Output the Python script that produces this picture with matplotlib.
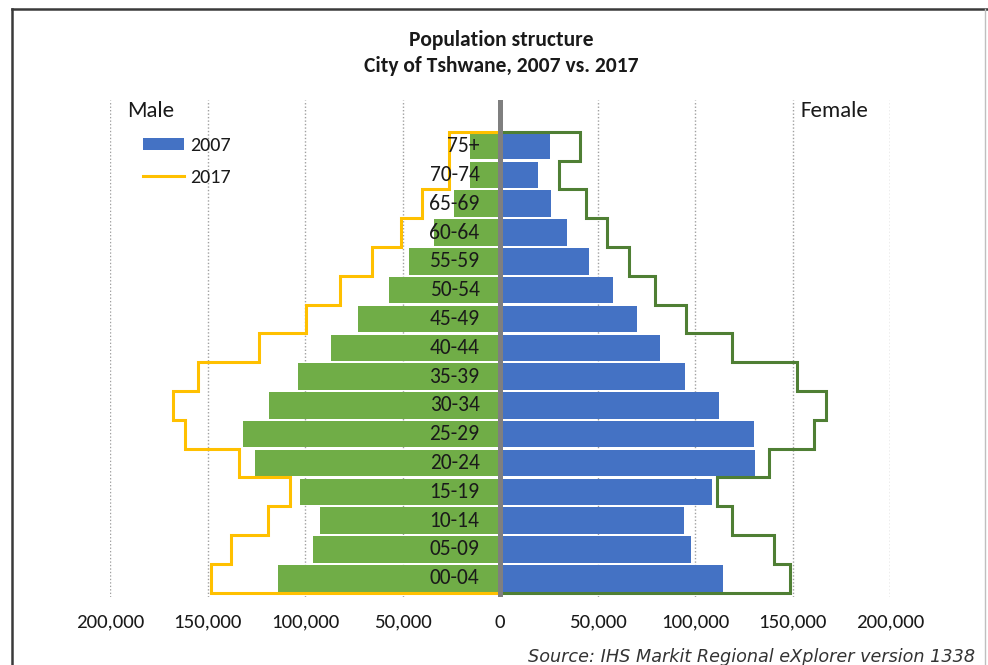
import matplotlib
matplotlib.use('Agg')
import matplotlib.pyplot as plt
from matplotlib.ticker import FuncFormatter, MultipleLocator
from matplotlib.lines import Line2D
import numpy as np

plt.rcParams['font.family'] = ['Carlito', 'DejaVu Sans']

age_groups = ['00-04', '05-09', '10-14', '15-19', '20-24', '25-29', '30-34', '35-39',
              '40-44', '45-49', '50-54', '55-59', '60-64', '65-69', '70-74', '75+']
male_2007 = [114000, 95900, 92300, 102600, 125500, 131600, 118500, 103400,
             86700, 72700, 57000, 46700, 33900, 23800, 15600, 15300]
female_2007 = [114600, 97700, 94600, 108800, 130700, 130000, 112500, 95100,
               81900, 70300, 57700, 45700, 34600, 26200, 19400, 25400]
male_2017 = [148100, 138200, 119100, 107900, 133600, 161300, 167900, 155100,
             123700, 99400, 81800, 65500, 50700, 39900, 26400, 26400]
female_2017 = [148800, 140400, 118900, 111200, 138200, 160900, 167300, 152200,
               119100, 95500, 79700, 66400, 55000, 44200, 30500, 40800]

male_color = '#70AD47'
female_color = '#4472C4'
male_line = '#FFC000'
female_line = '#4F7F34'


def step_outline(values):
    # outline that walks down the rows from the top edge to the bottom edge
    vals = np.asarray(values, dtype=float)
    n = len(vals)
    top = np.arange(n) + 0.5
    bottom = np.arange(n) - 0.5
    xs = np.concatenate([[0], np.repeat(vals[::-1], 2), [0]])
    ys = np.concatenate([[top[-1]], np.ravel(np.column_stack([top[::-1], bottom[::-1]])), [bottom[0]]])
    return xs, ys


fig = plt.figure(figsize=(9.88, 6.65), dpi=100)
ax = fig.add_axes([110 / 988, 68 / 665, 780 / 988, 497 / 665])

y = np.arange(len(age_groups))
ax.barh(y, [-v for v in male_2007], height=0.92, color=male_color, zorder=2)
bars_f = ax.barh(y, female_2007, height=0.92, color=female_color, zorder=2)

mx, my = step_outline(male_2017)
ax.plot(-mx, my, color=male_line, lw=2.2, zorder=3, solid_joinstyle='miter')
fx, fy = step_outline(female_2017)
ax.plot(fx, fy, color=female_line, lw=2.2, zorder=3, solid_joinstyle='miter')

ax.axvline(0, color='#7F7F7F', lw=3.6, zorder=4)

for i, lab in enumerate(age_groups):
    ax.text(-10500, i, lab, ha='right', va='center', fontsize=15.5, color='#1a1a1a', zorder=5)

ax.set_xlim(-200000, 200000)
ax.set_ylim(-0.65, 16.6)
ax.xaxis.set_major_locator(MultipleLocator(50000))
ax.xaxis.set_major_formatter(FuncFormatter(lambda v, p: f'{abs(v):,.0f}'))
ax.tick_params(axis='x', length=0, pad=12, labelsize=15, labelcolor='#1a1a1a')
ax.set_yticks([])
for s in ax.spines.values():
    s.set_visible(False)
for xv in [-200000, -150000, -100000, -50000, 50000, 100000, 150000, 200000]:
    ax.axvline(xv, color='#A0A0A0', lw=1, ls=(0, (1, 1.5)), zorder=1)

ax.text(0.022, 0.966, 'Male', transform=ax.transAxes, fontsize=16.5, color='#1a1a1a', va='baseline')
ax.text(0.885, 0.966, 'Female', transform=ax.transAxes, fontsize=16.5, color='#1a1a1a', va='baseline')

leg = ax.legend([bars_f, Line2D([], [], color=male_line, lw=2.2)], ['2007', '2017'],
                loc='upper left', bbox_to_anchor=(125 / 988, 1 - 119 / 665),
                bbox_transform=fig.transFigure, frameon=False, fontsize=14.5,
                handlelength=2.05, handleheight=0.6, handletextpad=0.3, labelspacing=0.72)
for t in leg.get_texts():
    t.set_color('#1a1a1a')

fig.text(0.507, 1 - 46 / 665, 'Population structure', ha='center', va='baseline',
         fontsize=15.5, fontweight='bold', color='#1a1a1a')
fig.text(0.507, 1 - 72 / 665, 'City of Tshwane, 2007 vs. 2017', ha='center', va='baseline',
         fontsize=15.5, fontweight='bold', color='#1a1a1a')

fig.text(528 / 988, 1 - 648 / 665, 'Source: IHS Markit Regional eXplorer version 1338',
         ha='left', va='top', fontsize=12.7, style='italic', family='DejaVu Sans', color='#333333')

# outer frame of the chart area
fig.add_artist(Line2D([12 / 988, 12 / 988], [0, 1 - 9 / 665], color='#3a3a3a', lw=1.8))
fig.add_artist(Line2D([12 / 988, 1], [1 - 9 / 665, 1 - 9 / 665], color='#3a3a3a', lw=1.8))
fig.add_artist(Line2D([985 / 988, 985 / 988], [1 / 665, 1 - 9 / 665], color='#BFBFBF', lw=1))

fig.savefig('out.png', dpi=100)
